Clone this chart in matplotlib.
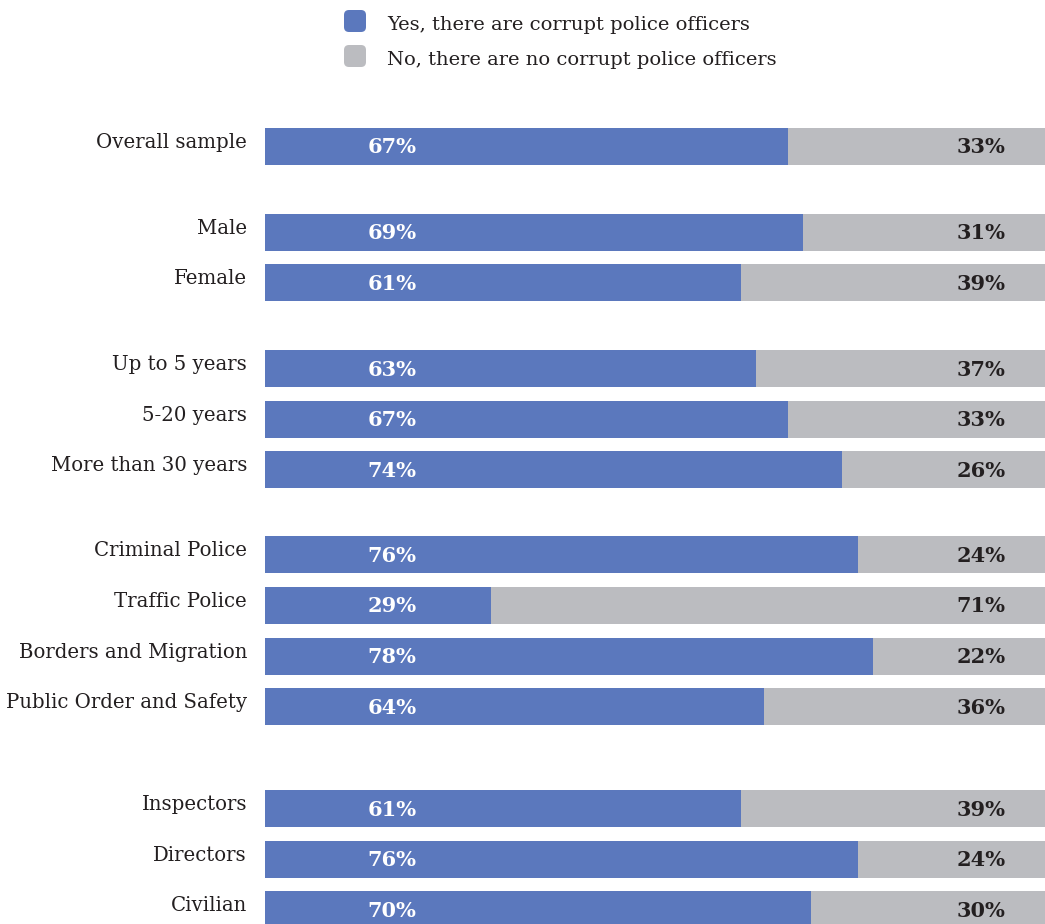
import matplotlib
matplotlib.use("Agg")
import matplotlib.pyplot as plt
from matplotlib.patches import FancyBboxPatch

# Survey data: share of respondents who say there are corrupt police officers
categories = [
    "Overall sample",
    "Male", "Female",
    "Up to 5 years", "5-20 years", "More than 30 years",
    "Criminal Police", "Traffic Police", "Borders and Migration", "Public Order and Safety",
    "Inspectors", "Directors", "Civilian",
]
group_sizes = [1, 2, 3, 4, 3]
yes_values = [67, 69, 61, 63, 67, 74, 76, 29, 78, 64, 61, 76, 70]
no_values = [33, 31, 39, 37, 33, 26, 24, 71, 22, 36, 39, 24, 30]
legend_labels = ["Yes, there are corrupt police officers",
                 "No, there are no corrupt police officers"]

BLUE = "#5b78bd"
GRAY = "#bbbcc0"
TEXT = "#231f20"
FONT = "DejaVu Serif"

W, H = 1045, 924
fig = plt.figure(figsize=(W / 100, H / 100), dpi=100)

# Bar area: x from 0..100 percent, y in pixel-like rows from top
ax = fig.add_axes([265 / W, 0, 780 / W, 1])
ax.set_xlim(0, 100)
ax.set_ylim(H, 0)
ax.axis("off")

# Row layout: fixed pitch inside groups, wider spacing between groups
pitch = 50.6
group_gaps = [0, 86, 86, 85, 102]
ys = []
y = 146
for g, n in enumerate(group_sizes):
    if g > 0:
        y = ys[-1] + group_gaps[g]
    for i in range(n):
        ys.append(y + i * pitch)

bar_h = 37
ax.barh(ys, yes_values, height=bar_h, color=BLUE, linewidth=0)
ax.barh(ys, no_values, left=yes_values, height=bar_h, color=GRAY, linewidth=0)

for yy, cat, yv, nv in zip(ys, categories, yes_values, no_values):
    ax.text(16.3, yy + 1, f"{yv}%", ha="center", va="center", color="white",
            fontsize=15, fontweight="bold", family=FONT)
    ax.text(91.8, yy + 1, f"{nv}%", ha="center", va="center", color=TEXT,
            fontsize=15, fontweight="bold", family=FONT)
    ax.text(-2.3, yy - 4, cat, ha="right", va="center", color=TEXT,
            fontsize=14.2, family=FONT, clip_on=False)

# Legend drawn in figure pixel coordinates
lax = fig.add_axes([0, 0, 1, 1], zorder=-1)
lax.set_xlim(0, W)
lax.set_ylim(H, 0)
lax.axis("off")
for i, (lab, col) in enumerate(zip(legend_labels, [BLUE, GRAY])):
    cy = 21 + i * 35
    lax.add_patch(FancyBboxPatch((344, cy - 11), 22, 22,
                                 boxstyle="round,pad=0,rounding_size=5",
                                 facecolor=col, edgecolor="none"))
    lax.text(387, cy + 4, lab, ha="left", va="center", color=TEXT,
             fontsize=14, family=FONT)

fig.savefig("out.png", dpi=100)
